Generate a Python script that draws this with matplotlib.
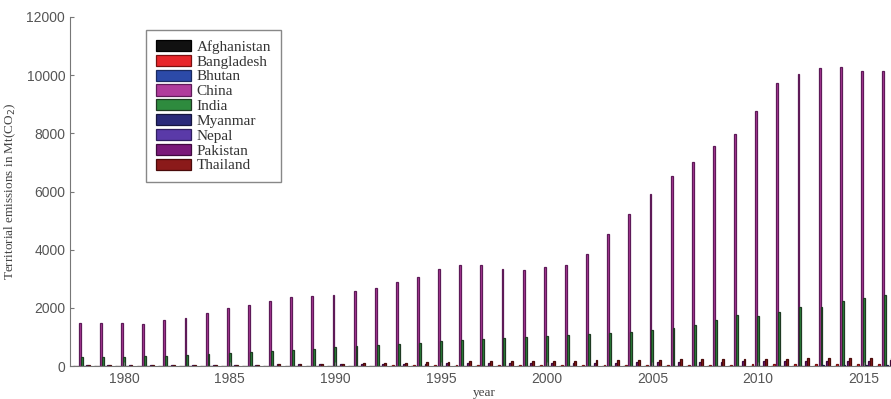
import numpy as np
import matplotlib.pyplot as plt

# Territorial CO2 emissions (MtCO2)
years = list(range(1978, 2017))

countries = ['Afghanistan', 'Bangladesh', 'Bhutan', 'China', 'India',
             'Myanmar', 'Nepal', 'Pakistan', 'Thailand']
colors = ['#111111', '#e8262b', '#2c4aa8', '#b03c9c', '#2e8b3e',
          '#2a2a7a', '#5a3aa8', '#7a1a7a', '#8b1a1a']
edges = ['#000000', '#7a1010', '#1a2a60', '#5e1a58', '#1e3a22',
         '#15153f', '#2f1f60', '#3f0a3f', '#4a0a0a']

afghanistan = [2, 2, 2, 2, 2, 2, 3, 3, 3, 3, 3, 3, 3, 3, 2, 2, 1, 1, 1, 1,
               1, 1, 1, 1, 1, 1, 1, 2, 2, 2, 3, 5, 8, 12, 10, 9, 8, 9, 10]
bangladesh = [6, 6, 7, 7, 8, 8, 9, 10, 11, 12, 13, 14, 15, 16, 17, 18, 19,
              22, 23, 24, 25, 26, 27, 29, 31, 33, 35, 38, 41, 43, 46, 50,
              55, 58, 63, 66, 70, 75, 80]
bhutan = [0.1, 0.1, 0.1, 0.1, 0.1, 0.1, 0.1, 0.1, 0.2, 0.2, 0.2, 0.2, 0.2,
          0.2, 0.3, 0.3, 0.3, 0.3, 0.4, 0.4, 0.4, 0.4, 0.4, 0.4, 0.4, 0.5,
          0.5, 0.5, 0.5, 0.5, 0.5, 0.6, 0.6, 0.7, 0.8, 0.9, 1.0, 1.0, 1.1]
china = [1462, 1490, 1467, 1451, 1580, 1662, 1810, 1985, 2084, 2224, 2383,
         2416, 2439, 2569, 2695, 2882, 3061, 3320, 3463, 3470, 3324, 3318,
         3405, 3488, 3850, 4540, 5234, 5897, 6529, 7030, 7555, 7984, 8776,
         9733, 10028, 10258, 10291, 10145, 10151]
india = [300, 310, 325, 345, 360, 385, 400, 440, 470, 505, 550, 600, 640,
         690, 720, 750, 800, 860, 900, 940, 970, 1010, 1040, 1060, 1090,
         1130, 1160, 1235, 1314, 1406, 1578, 1750, 1725, 1850, 2035, 2035,
         2240, 2330, 2435]
myanmar = [5, 5, 5, 5, 6, 6, 6, 6, 6, 6, 5, 4, 4, 4, 5, 6, 7, 8, 8, 8, 9,
           9, 10, 10, 11, 11, 12, 12, 13, 13, 12, 12, 10, 12, 15, 18, 20,
           23, 25]
nepal = [0.4, 0.4, 0.5, 0.5, 0.5, 0.5, 0.6, 0.7, 0.8, 0.8, 0.9, 0.8, 0.9,
         1.0, 1.2, 1.3, 1.6, 2.0, 2.2, 2.6, 2.7, 2.6, 3.0, 3.0, 3.0, 3.1,
         3.1, 3.2, 3.0, 2.9, 3.3, 3.9, 4.8, 5.0, 5.6, 6.0, 7.0, 6.5, 8.5]
pakistan = [25, 27, 30, 32, 35, 38, 41, 45, 49, 54, 58, 62, 66, 71, 76, 80,
            84, 87, 92, 95, 98, 103, 105, 107, 110, 113, 124, 130, 138, 148,
            150, 155, 155, 156, 158, 160, 165, 172, 190]
thailand = [25, 28, 35, 34, 35, 38, 40, 42, 44, 52, 60, 70, 82, 92, 103,
            115, 128, 150, 170, 180, 160, 165, 168, 180, 190, 200, 215, 222,
            225, 232, 235, 240, 252, 255, 270, 275, 278, 282, 290]

data = [afghanistan, bangladesh, bhutan, china, india,
        myanmar, nepal, pakistan, thailand]

fig = plt.figure(figsize=(8.91, 3.99), dpi=100)
ax = fig.add_axes([0.0786, 0.0827, 0.93, 0.8747])

x = np.array(years, dtype=float)
n = len(countries)
w = 0.8 / n
for i in range(n):
    ax.bar(x + (i - (n - 1) / 2.0) * w, data[i], width=w, color=colors[i],
           edgecolor=edges[i], linewidth=0.9, label=countries[i])

ax.set_xlim(1977.45, 2016.65)
ax.set_ylim(0, 12000)
ax.set_yticks(range(0, 12001, 2000))
ax.set_xticks(range(1980, 2016, 5))

for s in ['top', 'right']:
    ax.spines[s].set_visible(False)
for s in ['left', 'bottom']:
    ax.spines[s].set_color('#777777')
    ax.spines[s].set_linewidth(0.8)
ax.tick_params(direction='in', length=3, colors='#777777', labelsize=10,
               labelcolor='#555555')
for lab in ax.get_xticklabels() + ax.get_yticklabels():
    lab.set_family('Liberation Sans')
ax.tick_params(axis='x', pad=4)

ax.set_xlabel('year', family='Liberation Serif', fontsize=9.5,
              color='#444444', labelpad=1)
ax.set_ylabel('Territorial emissions in Mt(CO$_2$)', family='Liberation Serif',
              fontsize=9.5, color='#444444', labelpad=6)

leg = ax.legend(loc='upper left', bbox_to_anchor=(0.0917, 0.963),
                borderaxespad=0,
                prop={'family': 'Liberation Serif', 'size': 11},
                handlelength=2.3, handleheight=0.75, labelspacing=0.06,
                handletextpad=0.35, borderpad=0.65, fancybox=False,
                framealpha=1, edgecolor='#888888')
for t in leg.get_texts():
    t.set_color('#333333')

fig.savefig('out.png', dpi=100)
